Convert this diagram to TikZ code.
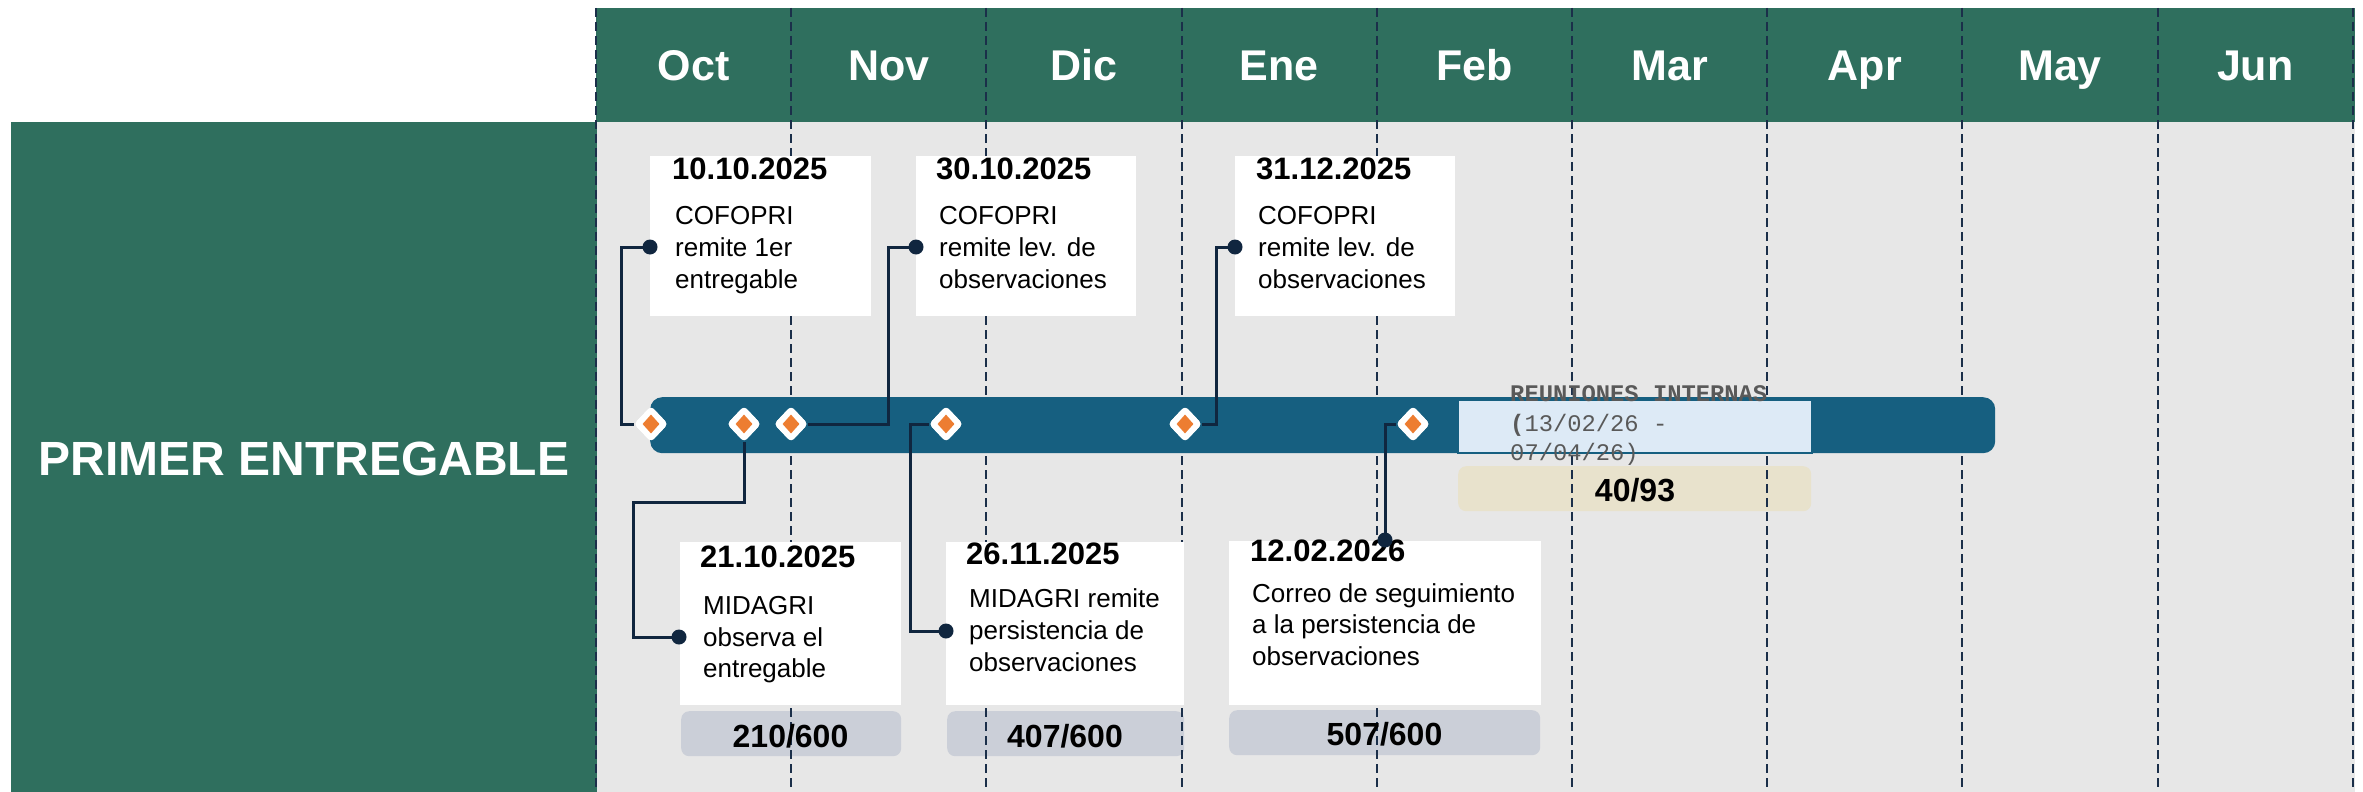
\documentclass[tikz,border=0pt]{standalone}
\usepackage{fontspec}
\setmainfont{Liberation Sans}
\newfontfamily\reunfont{Liberation Mono}
\usetikzlibrary{shapes.geometric}
\definecolor{hdrgreen}{HTML}{2F6F5E}
\definecolor{panelgray}{HTML}{E7E7E7}
\definecolor{barblue}{HTML}{165F80}
\definecolor{gridnavy}{HTML}{1B2F4A}
\definecolor{connnavy}{HTML}{10263F}
\definecolor{mkorange}{HTML}{ED7D31}
\definecolor{lightblue}{HTML}{DDEAF6}
\definecolor{beige}{HTML}{E8E2CC}
\definecolor{countgray}{HTML}{CBCFD8}
\definecolor{reuniongray}{HTML}{595959}
\tikzset{
  card/.style={fill=white, inner sep=0pt, anchor=north west, draw=none},
  countbox/.style={fill=countgray, rounded corners=8pt, inner sep=0pt, anchor=north west},
  gridline/.style={gridnavy, line width=2pt, dash pattern=on 9pt off 5pt},
  conn/.style={connnavy, line width=3pt},
  datetxt/.style={anchor=base west, inner sep=0pt, font=\fontsize{31}{37}\selectfont\bfseries},
  bodytxt/.style={anchor=base west, inner sep=0pt, font=\fontsize{26}{31}\selectfont},
  counttxt/.style={anchor=base, inner sep=0pt, font=\fontsize{32}{38}\selectfont\bfseries},
  monthtxt/.style={anchor=base, inner sep=0pt, text=white, font=\fontsize{43}{50}\selectfont\bfseries},
  reuntxt/.style={anchor=base west, inner sep=0pt, text=reuniongray, font=\reunfont\fontsize{23.8}{29}\selectfont},
  outerdia/.style={diamond, fill=white, minimum width=34pt, minimum height=36pt, inner sep=0pt, rounded corners=4pt},
  innerdia/.style={diamond, fill=mkorange, minimum width=17pt, minimum height=19pt, inner sep=0pt},
  dotend/.style={circle, fill=connnavy, inner sep=0pt, minimum size=15pt},
}
\begin{document}
\begin{tikzpicture}[x=1pt,y=-1pt]
\useasboundingbox (0,0) rectangle (2363,792);
\fill[white] (0,0) rectangle (2363,792);
% frames
\node[fill=hdrgreen, inner sep=0pt, anchor=north west, minimum width=586pt, minimum height=670pt] (leftbox) at (11,122) {};
\node[text=white, inner sep=0pt, font=\fontsize{48}{56}\selectfont\bfseries] (title) at (304,459) {PRIMER ENTREGABLE};
\node[fill=hdrgreen, inner sep=0pt, anchor=north west, minimum width=1759pt, minimum height=114pt] (header) at (596,8) {};
\node[fill=panelgray, inner sep=0pt, anchor=north west, minimum width=1758pt, minimum height=670pt] (panel) at (597,122) {};
% count boxes
\node[countbox, minimum width=220pt, minimum height=45pt] (kA) at (681,711) {};
\node[countbox, minimum width=237pt, minimum height=45pt] (kB) at (947,711) {};
\node[countbox, minimum width=311pt, minimum height=45pt] (kC) at (1229,710) {};
\node[countbox, fill=beige, minimum width=353pt, minimum height=45pt] (kR) at (1458,466) {};
% grid
\foreach \i in {0,...,9} \draw[gridline] ({596+195.2*\i},8) -- ({596+195.2*\i},792);
% months
\foreach \m [count=\i from 0] in {Oct,Nov,Dic,Ene,Feb,Mar,Apr,May,Jun}
  \node[monthtxt] (m\i) at ({693.6+195.2*\i},81) {\m};
% cards
\node[card, minimum width=221pt, minimum height=160pt] (c1) at (650,156) {};
\node[card, minimum width=220pt, minimum height=160pt] (c2) at (916,156) {};
\node[card, minimum width=220pt, minimum height=160pt] (c3) at (1235,156) {};
\node[card, minimum width=221pt, minimum height=163pt] (cA) at (680,542) {};
\node[card, minimum width=238pt, minimum height=163pt] (cB) at (946,542) {};
\node[card, minimum width=312pt, minimum height=164pt] (cC) at (1229,541) {};
% card texts
\node[datetxt] (t1d) at (672,179) {10.10.2025};
\node[bodytxt] (t1a) at (675,224) {COFOPRI};
\node[bodytxt] (t1b) at (675,256) {remite 1er};
\node[bodytxt] (t1c) at (675,288) {entregable};
\node[datetxt] (t2d) at (936,179) {30.10.2025};
\node[bodytxt] (t2a) at (939,224) {COFOPRI};
\node[bodytxt] (t2b) at (939,256) {remite lev. de};
\node[bodytxt] (t2c) at (939,288) {observaciones};
\node[datetxt] (t3d) at (1256,179) {31.12.2025};
\node[bodytxt] (t3a) at (1258,224) {COFOPRI};
\node[bodytxt] (t3b) at (1258,256) {remite lev. de};
\node[bodytxt] (t3c) at (1258,288) {observaciones};
\node[datetxt] (tAd) at (700,567) {21.10.2025};
\node[bodytxt] (tAa) at (703,614) {MIDAGRI};
\node[bodytxt] (tAb) at (703,646) {observa el};
\node[bodytxt] (tAc) at (703,677) {entregable};
\node[datetxt] (tBd) at (966,564) {26.11.2025};
\node[bodytxt] (tBa) at (969,607) {MIDAGRI remite};
\node[bodytxt] (tBb) at (969,639) {persistencia de};
\node[bodytxt] (tBc) at (969,671) {observaciones};
\node[datetxt] (tCd) at (1250,561) {12.02.2026};
\node[bodytxt] (tCa) at (1252,602) {Correo de seguimiento};
\node[bodytxt] (tCb) at (1252,633) {a la persistencia de};
\node[bodytxt] (tCc) at (1252,665) {observaciones};
% counts
\node[counttxt] (nA) at (790.5,747) {210/600};
\node[counttxt] (nB) at (1065,747) {407/600};
\node[counttxt] (nC) at (1384.5,745) {507/600};
\node[counttxt] (nR) at (1635,501) {40/93};
% bar
\node[fill=barblue, rounded corners=12pt, inner sep=0pt, anchor=north west, minimum width=1345pt, minimum height=56pt] (bar) at (650,397) {};
\node[fill=lightblue, draw=barblue, line width=1.5pt, inner sep=0pt, anchor=north west, minimum width=354pt, minimum height=53pt] (reun) at (1457,399) {};
\node[reuntxt, font=\reunfont\bfseries\fontsize{23.8}{29}\selectfont] (r1) at (1510,401) {REUNIONES INTERNAS};
\node[reuntxt] (r2) at (1510,431) {\textbf{(}13/02/26 -};
\node[reuntxt] (r3) at (1510,460) {07/04/26)};
% milestones
\node[outerdia] (d1) at (651,424) {};
\node[outerdia] (d2) at (744,424) {};
\node[outerdia] (d3) at (791,424) {};
\node[outerdia] (d4) at (946,424) {};
\node[outerdia] (d5) at (1185,424) {};
\node[outerdia] (d6) at (1413,424) {};
\coordinate (dot1) at (650,247);
\coordinate (dot2) at (679,637);
\coordinate (dot3) at (916,247);
\coordinate (dot4) at (946,631);
\coordinate (dot5) at (1235,247);
\coordinate (dot6) at (1385,540);
\draw[conn] (d1.west) -- (621,424) |- (dot1);
\draw[conn] (d2.south) |- (633,502) |- (dot2);
\draw[conn] (d3.east) -- (888,424) |- (dot3);
\draw[conn] (d4.west) -- (910,424) |- (dot4);
\draw[conn] (d5.east) -- (1216,424) |- (dot5);
\draw[conn] (d6.west) -- (1385,424) -- (dot6);
\foreach \k in {1,...,6} \node[dotend] (e\k) at (dot\k) {};
\foreach \k in {1,...,6} {
  \node[outerdia] (o\k) at (d\k) {};
  \node[innerdia] (i\k) at (d\k) {};
}
\end{tikzpicture}
\end{document}
